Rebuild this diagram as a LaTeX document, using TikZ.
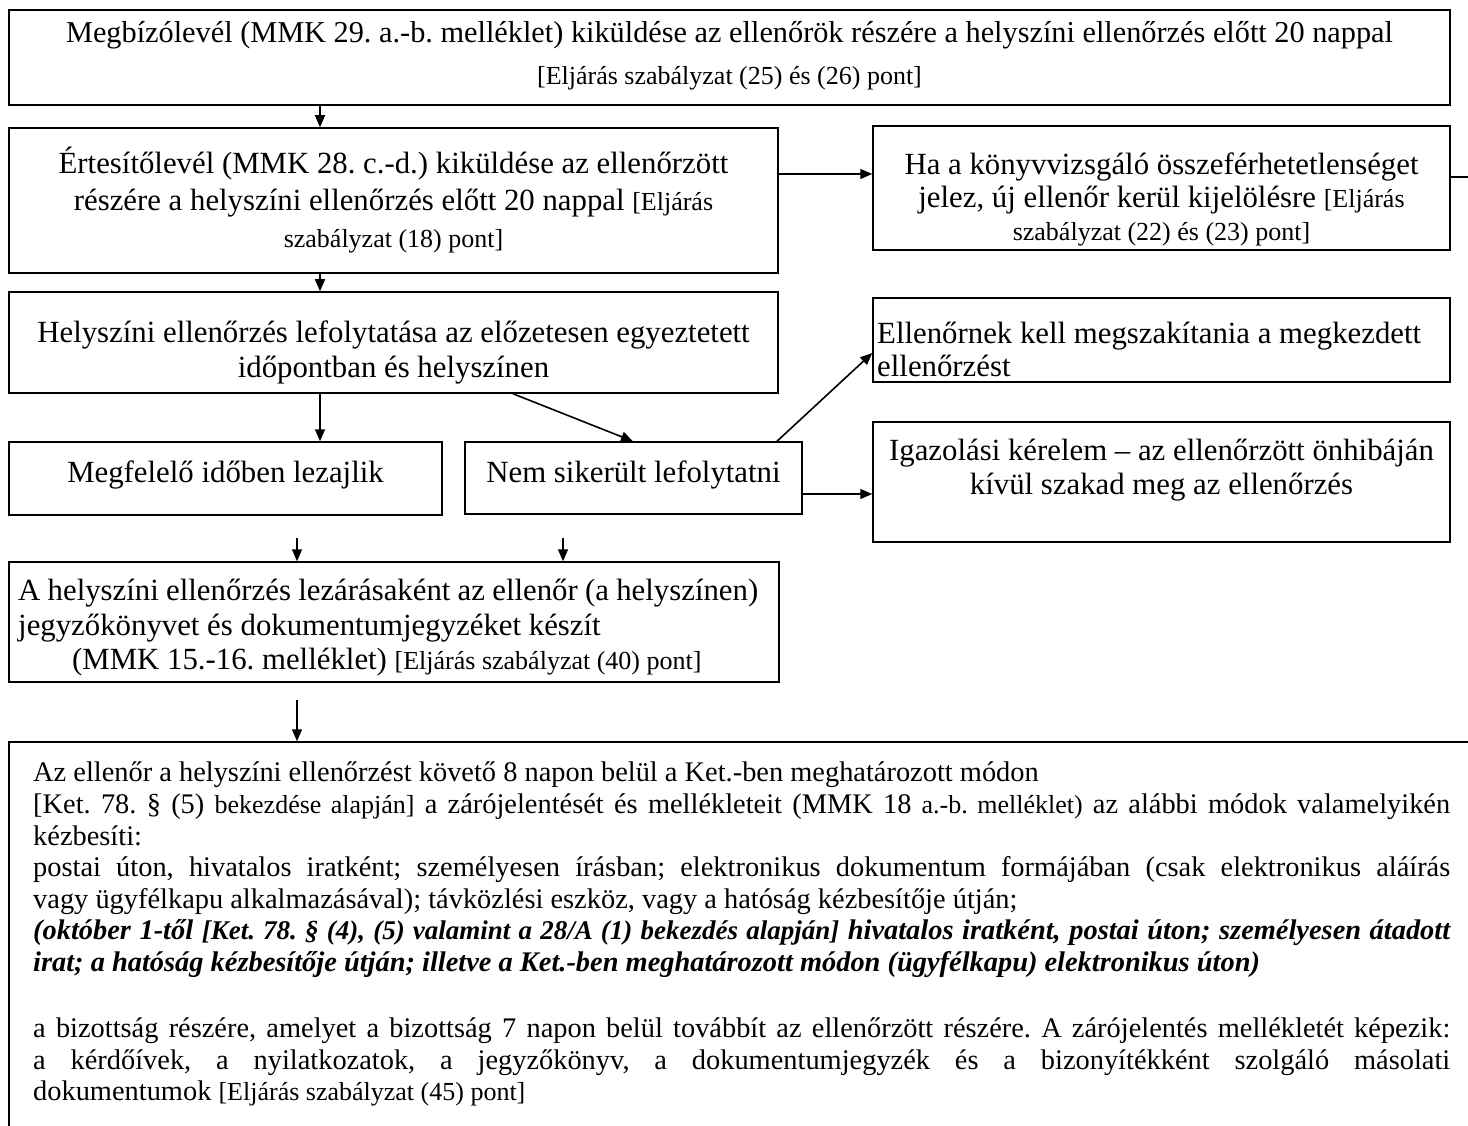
\documentclass[tikz,border=0pt]{standalone}
\usepackage{fontspec}
\setmainfont{Liberation Serif}
\usetikzlibrary{arrows.meta}
\newcommand\smb{\fontsize{26}{36}\selectfont}
\newcommand\smc{\fontsize{26}{31.5}\selectfont}
\newcommand\smd{\fontsize{27}{31.5}\selectfont}
\begin{document}
\frenchspacing
\begin{tikzpicture}[x=1pt,y=-1pt,
  box/.style={draw,line width=1.5pt,inner sep=0pt},
  txt/.style={inner sep=0pt,align=center,font=\fontsize{30.8}{36}\selectfont},
  arr/.style={line width=1.6pt,-{Triangle[length=12pt,width=10pt]}},
  plain/.style={line width=1.6pt}]
\useasboundingbox (0,0) rectangle (1468,1126);
\clip (0,0) rectangle (1468,1126);
% helper coordinates
\coordinate (c320) at (320,0);
\coordinate (c513) at (513,0);
\coordinate (c633) at (633,0);
\coordinate (c777) at (777,0);
\coordinate (c297) at (297,0);
\coordinate (c563) at (563,0);
\coordinate (c494) at (0,494);
\coordinate (c174) at (0,174);
\coordinate (c177) at (0,177);
\coordinate (rout) at (1468,177);
\coordinate (s1) at (297,538);
\coordinate (s2) at (563,538);
\coordinate (s3) at (297,700);
% boxes
\node[box,minimum width=1441pt,minimum height=95pt] (b1) at (729.5,57.5) {};
\node[box,minimum width=769pt,minimum height=145pt] (b2) at (393.5,200.5) {};
\node[box,minimum width=577pt,minimum height=124pt] (r1) at (1161.5,188) {};
\node[box,minimum width=769pt,minimum height=101pt] (b3) at (393.5,342.5) {};
\node[box,minimum width=577pt,minimum height=84pt] (r2) at (1161.5,340) {};
\node[box,minimum width=433pt,minimum height=73pt] (bm) at (225.5,478.5) {};
\node[box,minimum width=337pt,minimum height=72pt] (bn) at (633.5,478) {};
\node[box,minimum width=577pt,minimum height=120pt] (r3) at (1161.5,482) {};
\node[box,minimum width=770pt,minimum height=120pt] (b4) at (394,622) {};
\node[box,minimum width=1480pt,minimum height=500pt] (b5) at (749,992) {};
% texts
\node[txt,font=\fontsize{30.3}{42}\selectfont] (t1) at (729.5,56) {Megbízólevél (MMK 29. a.-b. melléklet) kiküldése az ellenőrök részére a helyszíni ellenőrzés előtt 20 nappal\\{\smb [Eljárás szabályzat (25) és (26) pont]}};
\node[txt,font=\fontsize{30.8}{37}\selectfont] (t2) at (393.5,200) {Értesítőlevél (MMK 28. c.-d.) kiküldése az ellenőrzött\\részére a helyszíni ellenőrzés előtt 20 nappal {\smb[Eljárás}\\{\smb szabályzat (18) pont]}};
\node[txt,font=\fontsize{30.8}{33}\selectfont] (tr1) at (1161.5,199) {Ha a könyvvizsgáló összeférhetetlenséget\\jelez, új ellenőr kerül kijelölésre {\smb[Eljárás}\\{\smb szabályzat (22) és (23) pont]}};
\node[txt,font=\fontsize{30.8}{35}\selectfont] (t3) at (393.5,352) {Helyszíni ellenőrzés lefolytatása az előzetesen egyeztetett\\időpontban és helyszínen};
\node[txt,align=left,anchor=west,font=\fontsize{30.8}{33}\selectfont] (tr2) at (877,349) {Ellenőrnek kell megszakítania a megkezdett\\ellenőrzést};
\node[txt,font=\fontsize{30.8}{34}\selectfont] (tr3) at (1161.5,470) {Igazolási kérelem – az ellenőrzött önhibáján\\kívül szakad meg az ellenőrzés};
\node[txt] (tm) at (225.5,475) {Megfelelő időben lezajlik};
\node[txt] (tn) at (633.5,475) {Nem sikerült lefolytatni};
\node[inner sep=0pt,anchor=west] (t4) at (18,628) {\begin{minipage}{740pt}\fontsize{30.8}{34.5}\selectfont\setlength\parindent{0pt}%
A helyszíni ellenőrzés lezárásaként az ellenőr (a helyszínen)\linebreak jegyzőkönyvet és dokumentumjegyzéket készít\par
\hspace*{54pt}(MMK 15.-16. melléklet) {\smb[Eljárás szabályzat (40) pont]}\par
\end{minipage}};
\node[inner sep=0pt,anchor=north west] (t5) at (33,762) {\begin{minipage}[t]{1417pt}\fontsize{28.4}{31.6}\selectfont\setlength\parindent{0pt}%
Az ellenőr a helyszíni ellenőrzést követő 8 napon belül a Ket.-ben meghatározott módon\par
[Ket. 78. § (5) {\smc bekezdése alapján]} a zárójelentését és mellékleteit (MMK 18 {\smc a.-b. melléklet)} az alábbi módok valamelyikén\linebreak kézbesíti:\par
postai úton, hivatalos iratként; személyesen írásban; elektronikus dokumentum formájában (csak elektronikus aláírás\linebreak vagy ügyfélkapu alkalmazásával); távközlési eszköz, vagy a hatóság kézbesítője útján;\par
{\bfseries\itshape (október 1-től {\smd[Ket. 78. § (4), (5) valamint a 28/A (1) bekezdés alapján]} hivatalos iratként, postai úton; személyesen átadott\linebreak irat; a hatóság kézbesítője útján; illetve a Ket.-ben meghatározott módon (ügyfélkapu) elektronikus úton)\par}
\mbox{}\par\vspace{3pt}
a bizottság részére, amelyet a bizottság 7 napon belül továbbít az ellenőrzött részére. A zárójelentés mellékletét képezik:\linebreak a kérdőívek, a nyilatkozatok, a jegyzőkönyv, a dokumentumjegyzék és a bizonyítékként szolgáló másolati\linebreak dokumentumok {\smc[Eljárás szabályzat (45) pont]}\par
\end{minipage}};
% connectors
\draw[arr] (b1.south -| c320) -- (b2.north -| c320);
\draw[arr] (b2.south -| c320) -- (b3.north -| c320);
\draw[arr] (b3.south -| c320) -- (bm.north -| c320);
\draw[arr] (b3.south -| c513) -- (bn.north -| c633);
\draw[arr] (bn.north -| c777) -- ([yshift=-13pt]r2.west);
\draw[arr] (bn.east |- c494) -- (r3.west |- c494);
\draw[arr] (b2.east |- c174) -- (r1.west |- c174);
\draw[plain] (r1.east |- c177) -- (rout);
\draw[arr] (s1) -- (b4.north -| c297);
\draw[arr] (s2) -- (b4.north -| c563);
\draw[arr] (s3) -- (b5.north -| c297);
\end{tikzpicture}
\end{document}
